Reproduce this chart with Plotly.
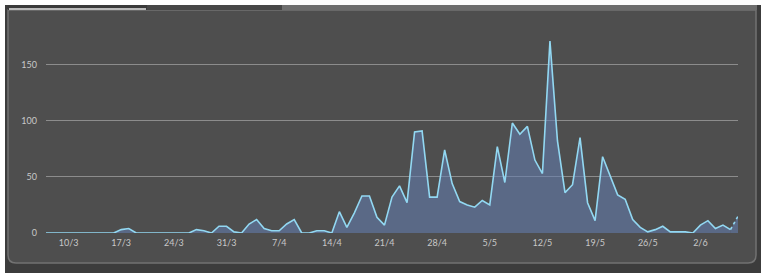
import plotly.graph_objects as go
import pandas as pd

start_date = "2019-03-07"
values = [0, 0, 0, 0, 0, 0, 0, 0, 0, 0,
          3, 4, 0, 0, 0, 0, 0, 0, 0, 0,
          3, 2, 0, 6, 6, 1, 0, 8, 12, 4,
          2, 2, 8, 12, 0, 0, 2, 2, 0, 19,
          5, 18, 33, 33, 14, 7, 32, 42, 27, 90,
          91, 32, 32, 74, 44, 28, 25, 23, 29, 25,
          77, 45, 98, 88, 95, 65, 53, 171, 82, 36,
          43, 85, 27, 11, 68, 51, 34, 30, 12, 5,
          1, 3, 6, 1, 1, 1, 0, 7, 11, 4,
          7, 3, 15]
dates = list(pd.date_range(start_date, periods=len(values), freq="D"))

tick_dates = ["2019-03-10", "2019-03-17", "2019-03-24", "2019-03-31", "2019-04-07",
              "2019-04-14", "2019-04-21", "2019-04-28", "2019-05-05", "2019-05-12",
              "2019-05-19", "2019-05-26", "2019-06-02"]
tick_text = ["10/3", "17/3", "24/3", "31/3", "7/4", "14/4", "21/4", "28/4",
             "5/5", "12/5", "19/5", "26/5", "2/6"]
y_ticks = [0, 50, 100, 150]

W, H = 765, 273
L, R, T, B = 46, 27, 31, 40
PW, PH = W - L - R, H - T - B

def px(x):
    return (x - L) / PW

def py(y):
    return (H - B - y) / PH

LINE = "#92d8f2"
FILL = "rgba(100,125,175,0.58)"

fig = go.Figure()
fig.add_trace(go.Scatter(x=dates[:-1], y=values[:-1], mode="lines",
                         line=dict(color=LINE, width=1.6), fill="tozeroy",
                         fillcolor=FILL, hoverinfo="x+y"))
fig.add_trace(go.Scatter(x=dates[-2:], y=values[-2:], mode="lines",
                         line=dict(color=LINE, width=1.6, dash="dot"), fill="tozeroy",
                         fillcolor=FILL, hoverinfo="x+y"))

shapes = []
shapes.append(dict(type="rect", xref="paper", yref="paper", layer="below",
                   x0=px(5), x1=px(761), y0=py(5), y1=py(273),
                   fillcolor="#3c3c3c", line=dict(width=0)))
r = 8
x0, x1, y0, y1 = 8, 756, 10, 263
path = (f"M {px(x0)},{py(y0)} L {px(x1)},{py(y0)} L {px(x1)},{py(y1 - r)} "
        f"Q {px(x1)},{py(y1)} {px(x1 - r)},{py(y1)} L {px(x0 + r)},{py(y1)} "
        f"Q {px(x0)},{py(y1)} {px(x0)},{py(y1 - r)} Z")
shapes.append(dict(type="path", xref="paper", yref="paper", layer="below", path=path,
                   fillcolor="#4e4e4e", line=dict(color="#727272", width=1.5)))
shapes.append(dict(type="rect", xref="paper", yref="paper", layer="below",
                   x0=px(8), x1=px(147), y0=py(5), y1=py(10),
                   fillcolor="#3a3a3a", line=dict(width=0)))
shapes.append(dict(type="rect", xref="paper", yref="paper", layer="below",
                   x0=px(147), x1=px(282), y0=py(5), y1=py(10),
                   fillcolor="#474747", line=dict(width=0)))
shapes.append(dict(type="rect", xref="paper", yref="paper", layer="below",
                   x0=px(282), x1=px(757), y0=py(5), y1=py(10),
                   fillcolor="#6e6e6e", line=dict(width=0)))
shapes.append(dict(type="line", xref="paper", yref="paper", layer="below",
                   x0=px(9), x1=px(146), y0=py(9), y1=py(9),
                   line=dict(color="#e6e6e6", width=1.5)))

fig.update_layout(
    width=W, height=H,
    margin=dict(l=L, r=R, t=T, b=B, pad=0),
    paper_bgcolor="white",
    plot_bgcolor="rgba(0,0,0,0)",
    showlegend=False,
    shapes=shapes,
    font=dict(family="Lato, sans-serif", size=9, color="#c8c8c8"),
    xaxis=dict(type="date", range=[dates[0], dates[-1]], tickvals=tick_dates,
               ticktext=tick_text, showgrid=False, zeroline=False, showline=False,
               ticks="", ticklen=0, ticklabelstandoff=3,
               tickfont=dict(size=9, color="#c8c8c8")),
    yaxis=dict(range=[0, 180], tickvals=y_ticks, showgrid=True, gridcolor="#8c8c8c",
               gridwidth=1, zeroline=False, showline=False, ticks="",
               ticklabelstandoff=8, tickfont=dict(size=9, color="#c8c8c8")),
)

fig.write_html("out.html")
